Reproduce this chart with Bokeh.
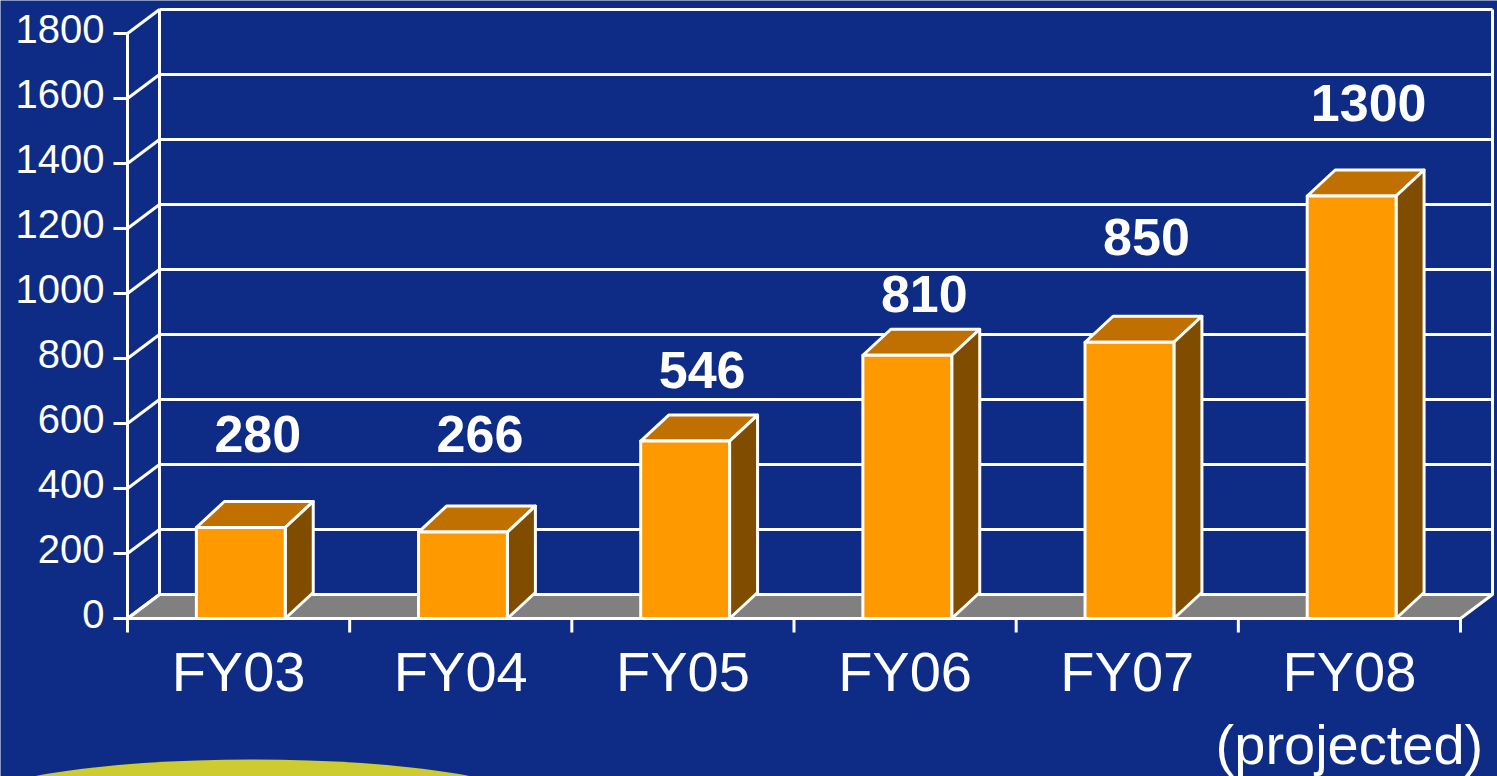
from bokeh.plotting import figure
from bokeh.models import Range1d
from bokeh.core.properties import value
from bokeh.embed import file_html
from bokeh.resources import INLINE

# ---------------- data ----------------
categories = ["FY03", "FY04", "FY05", "FY06", "FY07", "FY08"]
notes = ["", "", "", "", "", "(projected)"]
amounts = [280, 266, 546, 810, 850, 1300]
y_ticks = [0, 200, 400, 600, 800, 1000, 1200, 1400, 1600, 1800]
y_tick_labels = [str(t) for t in y_ticks]

# ---------------- layout (pixels) ----------------
W, H = 1497, 776
X0, XR = 127, 1460          # front x-axis ends
Y0, YTOP = 618, 33          # front y of 0 and 1800
kx = (XR - X0) / len(categories)
ky = (Y0 - YTOP) / 1800.0

def dxp(px):
    return px / kx

def dyp(px):
    return px / ky

WALL_DX, WALL_DY = dxp(32), dyp(24)
BAR_DX, BAR_DY = dxp(28), dyp(26)
BAR_W = 0.4
BAR_C = 0.51
# distance (px) from bar's front top edge up to the middle of its value label
label_lift_px = [94, 98, 71, 61, 105, 93]

BG = "#0e2c86"
WHITE = "white"
LW = 3

p = figure(width=W, height=H, output_backend="svg", toolbar_location=None,
           x_range=Range1d(-X0 / kx, (W - X0) / kx),
           y_range=Range1d(-(H - Y0) / ky, Y0 / ky),
           x_axis_type=None, y_axis_type=None, min_border=0,
           background_fill_color=BG, border_fill_color=BG,
           outline_line_color=None)
p.grid.visible = False
p.min_border_left = p.min_border_right = p.min_border_top = p.min_border_bottom = 0

n = len(categories)
ymax = y_ticks[-1]

# decorative template strip at bottom-left
p.ellipse(x=[dxp(252 - X0)], y=[-dyp(806 - Y0)], width=570, height=94,
          width_units="screen", height_units="screen",
          fill_color="#cccc30", line_color=None)

# floor
p.patch(x=[0, n, n + WALL_DX, WALL_DX], y=[0, 0, WALL_DY, WALL_DY],
        fill_color="#808080", line_color=WHITE, line_width=LW, line_join="round")

# back wall grid lines
p.segment(x0=[WALL_DX] * len(y_ticks), x1=[n + WALL_DX] * len(y_ticks),
          y0=[t + WALL_DY for t in y_ticks], y1=[t + WALL_DY for t in y_ticks],
          line_color=WHITE, line_width=LW)
# back wall vertical edges
p.segment(x0=[WALL_DX, n + WALL_DX], x1=[WALL_DX, n + WALL_DX],
          y0=[WALL_DY, WALL_DY], y1=[ymax + WALL_DY, ymax + WALL_DY],
          line_color=WHITE, line_width=LW)
# side wall diagonals
p.segment(x0=[0] * len(y_ticks), x1=[WALL_DX] * len(y_ticks),
          y0=y_ticks, y1=[t + WALL_DY for t in y_ticks],
          line_color=WHITE, line_width=LW)

# bars
centers = [i + BAR_C for i in range(n)]
lefts = [c - BAR_W / 2 for c in centers]
rights = [c + BAR_W / 2 for c in centers]
p.patches(xs=[[l, r, r + BAR_DX, l + BAR_DX] for l, r in zip(lefts, rights)],
          ys=[[v, v, v + BAR_DY, v + BAR_DY] for v in amounts],
          fill_color="#c07000", line_color=WHITE, line_width=LW, line_join="round")
p.patches(xs=[[r, r + BAR_DX, r + BAR_DX, r] for r in rights],
          ys=[[0, BAR_DY, v + BAR_DY, v] for v in amounts],
          fill_color="#7f4c00", line_color=WHITE, line_width=LW, line_join="round")
p.quad(left=lefts, right=rights, bottom=[0] * n, top=amounts,
       fill_color="#ff9900", line_color=WHITE, line_width=LW, line_join="round")

# front axes
p.segment(x0=[0, 0], x1=[0, n], y0=[0, 0], y1=[ymax, 0],
          line_color=WHITE, line_width=LW)
p.segment(x0=[-dxp(14)] * len(y_ticks), x1=[0] * len(y_ticks),
          y0=y_ticks, y1=y_ticks, line_color=WHITE, line_width=LW)
p.segment(x0=list(range(n + 1)), x1=list(range(n + 1)),
          y0=[0] * (n + 1), y1=[-dyp(14)] * (n + 1),
          line_color=WHITE, line_width=LW)

# y tick labels
p.text(x=[-dxp(23)] * len(y_ticks), y=y_ticks, text=y_tick_labels,
       text_font=value("Liberation Sans"), text_font_size="40px",
       text_color=WHITE, text_align="right", text_baseline="middle", y_offset=-5)

# category labels
p.text(x=[i + 0.5 for i in range(n)], y=[-dyp(671 - Y0)] * n, text=categories,
       text_font=value("Liberation Sans"), text_font_size="56px",
       text_color=WHITE, text_align="center", text_baseline="middle")
p.text(x=[i + 0.5 for i in range(n)], y=[-dyp(744 - Y0)] * n, text=notes,
       text_font=value("Liberation Sans"), text_font_size="56px",
       text_color=WHITE, text_align="center", text_baseline="middle")

# value labels
p.text(x=[c + dxp(17) for c in centers],
       y=[v + dyp(l) for v, l in zip(amounts, label_lift_px)],
       text=[str(v) for v in amounts],
       text_font=value("Liberation Sans"), text_font_size="52px",
       text_font_style="bold", text_color=WHITE,
       text_align="center", text_baseline="middle")

open("out.html", "w").write(file_html(p, INLINE))
